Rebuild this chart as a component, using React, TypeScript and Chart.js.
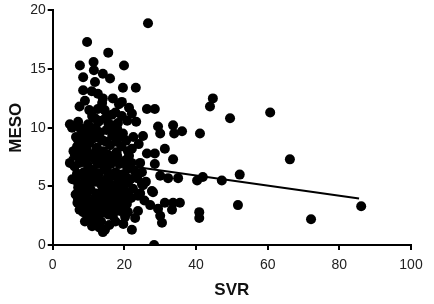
import React, { useEffect, useRef } from "react";
import { Chart, registerables } from "chart.js";

Chart.register(...registerables);

// SVR (x) and MESO (y) observations
const svrValues = [
  26.6, 9.6, 15.5, 19.9, 11.4, 7.6, 11.5, 14.0, 16.0, 8.5, 11.8, 19.6, 23.2, 8.5, 10.9, 12.6, 14.0, 13.8, 19.3, 21.3,
  26.3, 28.5, 22.1, 16.5, 19.3, 12.6, 44.7, 43.9, 49.5, 29.4, 33.6, 36.1, 41.1, 60.7, 66.2, 52.2, 51.7, 86.1, 72.1, 30.0,
  33.9, 31.3, 28.5, 33.6, 28.5, 30.0, 32.2, 35.0, 40.3, 41.9, 47.2, 28.0, 31.3, 33.6, 35.5, 27.2, 40.9, 40.9, 30.0, 30.5,
  33.3, 28.3, 11.8, 7.1, 4.8, 18.2, 5.4, 7.6, 9.9, 11.8, 18.0, 19.6, 16.6, 6.8, 9.0, 14.0, 22.1, 26.3, 7.6, 6.2,
  18.0, 20.2, 24.4, 6.8, 9.0, 15.2, 12.6, 7.6, 7.6, 9.6, 11.2, 14.0, 16.8, 20.2, 22.1, 24.4, 25.2, 27.7, 29.4, 20.7,
  15.4, 12.6, 23.8, 22.4, 21.0, 6.8, 7.1, 8.2, 8.5, 11.0, 24.9, 23.8, 14.6,
  8.5, 10.2, 11.5, 13.2, 15.0, 16.4, 12.3, 14.1, 16.0, 17.8, 19.2, 20.5, 9.3, 10.8, 12.0, 13.7, 15.5, 17.1, 18.6, 21.3,
  9.8, 11.2, 12.9, 14.4, 16.2, 17.6, 19.4, 20.8, 22.9, 8.7, 10.4, 11.8, 13.4, 14.9, 16.7, 18.2, 19.9, 21.7, 23.6, 9.1,
  10.6, 12.2, 13.8, 15.3, 16.9, 18.5, 20.3, 8.2, 9.9, 11.4, 13.0, 14.6, 16.2, 17.7, 19.1, 21.9, 10.7, 14.2, 18.8, 12.4,
  15.8, 17.5, 6.5, 7.8, 6.1, 7.2, 6.4, 5.8, 8.0, 9.0, 13.0, 12.7, 14.7, 10.2, 9.0, 16.8, 18.5, 7.5, 20.8, 22.5,
  24.0, 25.2, 23.3, 24.9, 26.0, 25.6, 23.0, 11.0, 19.7, 21.0, 6.9, 5.5, 4.8,
  7.0, 8.0, 9.5, 10.5, 12.0, 13.5, 15.0, 17.0, 19.0, 21.0, 7.5, 9.0, 10.0, 11.5, 13.0, 14.8, 16.0, 17.8, 19.8, 22.0,
  6.5, 8.0, 9.5, 10.5, 12.5, 14.0, 15.5, 17.2, 18.8, 20.5, 7.0, 8.6, 10.2, 11.8, 13.5, 15.0, 16.5, 18.0, 19.5, 21.0,
  7.5, 9.2, 11.0, 12.8, 14.0, 15.5, 17.0, 18.5, 20.0, 13.5, 8.0, 10.0, 13.0, 15.5, 11.0, 14.5, 17.5,
];
const mesoValues = [
  18.9, 17.3, 16.4, 15.3, 15.6, 15.3, 14.9, 14.6, 14.2, 14.3, 13.9, 13.4, 13.4, 13.2, 13.1, 12.9, 12.5, 12.1, 12.2, 11.7,
  11.6, 11.6, 11.2, 11.1, 11.0, 11.6, 12.5, 11.8, 10.8, 10.1, 10.2, 9.7, 9.5, 11.3, 7.3, 6.0, 3.4, 3.3, 2.2, 9.5,
  9.5, 8.2, 7.8, 7.3, 6.9, 5.9, 5.7, 5.7, 5.5, 5.8, 5.5, 4.5, 3.6, 3.6, 3.6, 3.4, 2.8, 2.3, 2.5, 1.9,
  3.0, 0.0, 10.8, 10.5, 10.3, 10.4, 10.0, 10.0, 10.3, 9.7, 9.9, 9.5, 9.3, 8.4, 9.0, 8.9, 8.2, 7.8, 7.4, 7.6,
  7.6, 7.2, 7.0, 5.9, 5.7, 6.3, 6.9, 4.6, 3.5, 2.7, 2.1, 1.1, 2.5, 2.4, 1.3, 4.4, 5.1, 4.6, 3.1, 3.5,
  3.2, 3.1, 2.9, 4.8, 5.3, 6.1, 4.9, 3.6, 2.8, 2.3, 5.2, 4.2, 1.3,
  9.5, 8.7, 9.1, 9.6, 9.8, 10.2, 8.3, 8.0, 8.5, 8.8, 8.4, 8.9, 7.9, 7.5, 7.2, 7.4, 7.7, 7.3, 6.9, 7.6,
  6.8, 6.4, 6.1, 6.6, 6.9, 6.2, 6.0, 6.5, 6.3, 6.2, 5.8, 5.4, 5.2, 5.6, 5.9, 5.4, 5.1, 5.6, 5.7, 5.0,
  4.7, 4.4, 4.6, 4.9, 4.5, 4.3, 4.5, 4.1, 3.8, 3.6, 3.9, 3.7, 3.5, 3.8, 3.4, 4.0, 3.0, 2.8, 2.9, 2.2,
  1.7, 2.0, 9.2, 8.6, 6.7, 5.2, 4.3, 8.0, 3.0, 2.0, 1.5, 10.5, 10.8, 11.5, 12.3, 12.5, 12.0, 11.8, 10.6, 9.2,
  8.6, 9.3, 10.5, 6.2, 5.4, 3.8, 2.3, 1.6, 1.8, 2.8, 3.6, 5.6, 7.0,
  9.0, 8.0, 8.2, 9.4, 10.0, 9.0, 8.8, 9.6, 9.2, 8.0, 7.0, 7.2, 6.2, 7.8, 8.0, 7.0, 6.0, 7.9, 7.0, 7.0,
  5.5, 5.0, 4.4, 5.4, 5.8, 5.0, 5.4, 5.0, 5.8, 5.8, 4.0, 4.2, 3.4, 4.0, 4.2, 4.2, 4.0, 4.8, 4.0, 4.4,
  3.0, 3.2, 2.8, 2.6, 3.3, 2.6, 3.0, 3.3, 3.0, 2.0, 9.8, 10.0, 10.6, 10.4, 11.0, 11.5, 11.3,
];

// Fitted regression line endpoints
const fitX = [4.5, 85.5];
const fitY = [7.46, 3.97];

const xTicks = [0, 20, 40, 60, 80, 100];
const yTicks = [0, 5, 10, 15, 20];

const FONT = "'Liberation Sans', Arial, Helvetica, sans-serif";

export default function App() {
  const ref = useRef<HTMLCanvasElement | null>(null);

  useEffect(() => {
    document.body.style.margin = "0";
    const canvas = ref.current;
    if (!canvas) return;
    const points = svrValues.map((x, i) => ({ x, y: mesoValues[i] }));
    const line = fitX.map((x, i) => ({ x, y: fitY[i] }));
    const chart = new Chart(canvas, {
      type: "scatter",
      data: {
        datasets: [
          {
            type: "line",
            data: line,
            borderColor: "#000",
            borderWidth: 2,
            pointRadius: 0,
            fill: false,
            order: 2,
          },
          {
            data: points,
            backgroundColor: "#000",
            borderColor: "#000",
            pointRadius: 5,
            pointHoverRadius: 5,
            borderWidth: 0,
            order: 1,
          },
        ],
      },
      options: {
        animation: false,
        responsive: false,
        events: [],
        layout: { padding: { left: 6, top: 8, right: 23, bottom: 3 } },
        plugins: { legend: { display: false }, tooltip: { enabled: false } },
        scales: {
          x: {
            type: "linear",
            min: 0,
            max: 100,
            afterBuildTicks: (s: any) => {
              s.ticks = xTicks.map((v) => ({ value: v }));
            },
            afterFit: (s: any) => {
              s.height = 304 - 245 - 3;
            },
            ticks: { color: "#222", font: { family: FONT, size: 14 }, padding: 7 },
            grid: { display: true, drawOnChartArea: false, drawTicks: true, tickLength: 5, color: "#000", lineWidth: 2 },
            border: { display: true, color: "#000", width: 2 },
            title: {
              display: true,
              text: "SVR",
              color: "#111",
              font: { family: FONT, size: 17, weight: "bold" },
              padding: { top: 0, bottom: 0 },
            },
          },
          y: {
            type: "linear",
            min: 0,
            max: 20,
            afterBuildTicks: (s: any) => {
              s.ticks = yTicks.map((v) => ({ value: v }));
            },
            afterFit: (s: any) => {
              s.width = 52.7 - 6;
            },
            ticks: { color: "#222", font: { family: FONT, size: 14 }, padding: 2 },
            grid: { display: true, drawOnChartArea: false, drawTicks: true, tickLength: 5, color: "#000", lineWidth: 2 },
            border: { display: true, color: "#000", width: 2 },
            title: {
              display: true,
              text: "MESO",
              color: "#111",
              font: { family: FONT, size: 17, weight: "bold" },
              padding: { top: 0, bottom: 0 },
            },
          },
        },
      },
    });
    return () => chart.destroy();
  }, []);

  return (
    <div style={{ width: 434, height: 304 }}>
      <canvas ref={ref} width={434} height={304} style={{ display: "block", width: 434, height: 304 }} />
    </div>
  );
}
